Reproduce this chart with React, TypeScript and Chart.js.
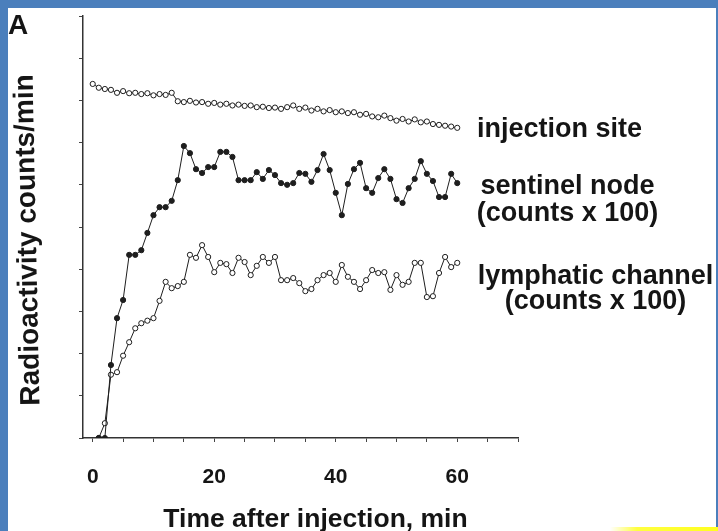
import React, { useEffect, useRef } from "react";
import { Chart, registerables } from "chart.js";

Chart.register(...registerables);

// Time after injection (min)
const minutes = [
  0, 1, 2, 3, 4, 5, 6, 7, 8, 9, 10, 11, 12, 13, 14, 15, 16, 17, 18, 19, 20,
  21, 22, 23, 24, 25, 26, 27, 28, 29, 30, 31, 32, 33, 34, 35, 36, 37, 38, 39, 40,
  41, 42, 43, 44, 45, 46, 47, 48, 49, 50, 51, 52, 53, 54, 55, 56, 57, 58, 59, 60,
];

// Radioactivity (relative axis units)
const injectionSite = [
  8.39, 8.3, 8.27, 8.25, 8.18, 8.22, 8.17, 8.18, 8.15, 8.17, 8.12, 8.15, 8.13, 8.18, 7.98, 7.96,
  7.99, 7.95, 7.96, 7.92, 7.94, 7.9, 7.92, 7.88, 7.9, 7.87, 7.88, 7.84, 7.85, 7.82, 7.83,
  7.8, 7.84, 7.88, 7.8, 7.83, 7.76, 7.8, 7.74, 7.77, 7.72, 7.74, 7.7, 7.72, 7.66, 7.68,
  7.62, 7.6, 7.64, 7.58, 7.52, 7.56, 7.5, 7.55, 7.48, 7.5, 7.44, 7.42, 7.4, 7.38, 7.35,
];

const sentinelNode = [
  null, 0, 0, 1.73, 2.84, 3.27, 4.34, 4.34, 4.45, 4.86, 5.28, 5.47, 5.47, 5.62, 6.11, 6.92,
  6.75, 6.37, 6.28, 6.42, 6.42, 6.78, 6.78, 6.66, 6.11, 6.11, 6.11, 6.3, 6.14, 6.35, 6.23,
  6.04, 6.0, 6.04, 6.28, 6.26, 6.07, 6.35, 6.73, 6.35, 5.81, 5.28, 6.02, 6.37, 6.52, 5.92,
  5.81, 6.16, 6.37, 6.14, 5.66, 5.57, 5.92, 6.14, 6.56, 6.26, 6.09, 5.71, 5.71, 6.26, 6.04,
];

const lymphaticChannel = [
  null, 0, 0.35, 1.5, 1.56, 1.95, 2.27, 2.6, 2.72, 2.78, 2.84, 3.25, 3.7, 3.55, 3.6, 3.7,
  4.34, 4.27, 4.57, 4.29, 3.93, 4.15, 4.12, 3.91, 4.27, 4.17, 3.86, 4.08, 4.29, 4.15, 4.29,
  3.74, 3.74, 3.79, 3.67, 3.48, 3.53, 3.74, 3.86, 3.91, 3.7, 4.1, 3.82, 3.7, 3.53, 3.74,
  3.98, 3.91, 3.93, 3.51, 3.86, 3.63, 3.7, 4.15, 4.15, 3.34, 3.36, 3.91, 4.29, 4.05, 4.15,
];

const xTickValues = [0, 5, 10, 15, 20, 25, 30, 35, 40, 45, 50, 55, 60, 65, 70];
const xTickLabels = [0, 20, 40, 60];

const panelLetter = "A";
const yTitle = "Radioactivity counts/min";
const xTitle = "Time after injection, min";
const seriesNames = ["injection site", "sentinel node", "lymphatic channel"];
const scaleNote = "(counts x 100)";

const FONT = "'Liberation Sans', Arial, Helvetica, sans-serif";
const INK = "#151515";

export default function App() {
  const ref = useRef<HTMLCanvasElement>(null);

  useEffect(() => {
    if (!ref.current) return;
    const mk = (label: string, values: (number | null)[], filled: boolean) => ({
      label,
      data: minutes.map((m, i) => ({ x: m, y: values[i] })),
      borderColor: "#1e1e1e",
      borderWidth: 1,
      pointRadius: 2.6,
      pointBorderWidth: 1,
      pointBorderColor: "#1e1e1e",
      pointBackgroundColor: filled ? "#1e1e1e" : "#ffffff",
      tension: 0,
      spanGaps: false,
    });
    const chart = new Chart(ref.current, {
      type: "line",
      data: {
        datasets: [
          mk(seriesNames[0], injectionSite, false),
          mk(seriesNames[1], sentinelNode, true),
          mk(seriesNames[2], lymphaticChannel, false),
        ],
      },
      options: {
        animation: false,
        responsive: false,
        maintainAspectRatio: false,
        layout: { padding: { top: 16, right: 200, left: 0, bottom: 0 } },
        plugins: { legend: { display: false }, tooltip: { enabled: false } },
        scales: {
          x: {
            type: "linear",
            min: -1.6,
            max: 70,
            afterBuildTicks: (s: any) => {
              s.ticks = xTickValues.map((v) => ({ value: v }));
            },
            afterFit: (s: any) => {
              s.height = 93;
            },
            ticks: {
              autoSkip: false,
              maxRotation: 0,
              padding: 23,
              color: INK,
              font: { family: FONT, size: 21, weight: "bold" },
              callback: (v: any) => (xTickLabels.includes(Number(v)) ? String(v) : ""),
            },
            grid: { drawOnChartArea: false, drawTicks: true, tickLength: 4, color: "#444", lineWidth: 1 },
            border: { display: true, color: "#333", width: 1.5 },
          },
          y: {
            min: 0,
            max: 10,
            afterFit: (s: any) => {
              s.width = 83;
            },
            ticks: { stepSize: 1, display: false },
            grid: { drawOnChartArea: false, drawTicks: true, tickLength: 4, color: "#444", lineWidth: 1 },
            border: { display: true, color: "#333", width: 1.5 },
          },
        },
      },
    } as any);
    return () => chart.destroy();
  }, []);

  const txt = (extra: React.CSSProperties): React.CSSProperties => ({
    position: "absolute",
    fontFamily: FONT,
    fontWeight: "bold",
    color: INK,
    whiteSpace: "nowrap",
    ...extra,
  });

  return (
    <div
      style={{
        position: "absolute",
        left: 0,
        top: 0,
        width: 718,
        height: 531,
        background: "#4b7fbc",
        overflow: "hidden",
      }}
    >
      <div style={{ position: "absolute", left: 8, top: 8, width: 708, height: 523, background: "#ffffff" }} />
      <div
        style={{
          position: "absolute",
          left: 610,
          top: 527,
          width: 108,
          height: 4,
          background: "linear-gradient(to right, rgba(255,255,80,0), #ffff40 25%, #ffff20)",
        }}
      />
      <canvas ref={ref} width={718} height={531} style={{ position: "absolute", left: 0, top: 0 }} />
      <div style={txt({ left: 8, top: 11, fontSize: 28, lineHeight: "28px" })}>{panelLetter}</div>
      <div
        style={txt({
          left: 27.3 - 200,
          top: 240 - 14,
          width: 400,
          height: 28,
          fontSize: 28,
          lineHeight: "28px",
          textAlign: "center",
          transform: "rotate(-91.2deg)",
          transformOrigin: "50% 50%",
        })}
      >
        {yTitle}
      </div>
      <div
        style={txt({
          left: 315.5 - 250,
          top: 504.6,
          width: 500,
          fontSize: 26.5,
          lineHeight: "26.5px",
          textAlign: "center",
        })}
      >
        {xTitle}
      </div>
      <div style={txt({ left: 477, top: 115, fontSize: 27, lineHeight: "27px" })}>{seriesNames[0]}</div>
      <div
        style={txt({ left: 567.5 - 150, top: 172, width: 300, fontSize: 27, lineHeight: "27px", textAlign: "center" })}
      >
        <div>{seriesNames[1]}</div>
        <div>{scaleNote}</div>
      </div>
      <div
        style={txt({ left: 595.5 - 150, top: 263, width: 300, fontSize: 27, lineHeight: "25px", textAlign: "center" })}
      >
        <div>{seriesNames[2]}</div>
        <div>{scaleNote}</div>
      </div>
    </div>
  );
}
